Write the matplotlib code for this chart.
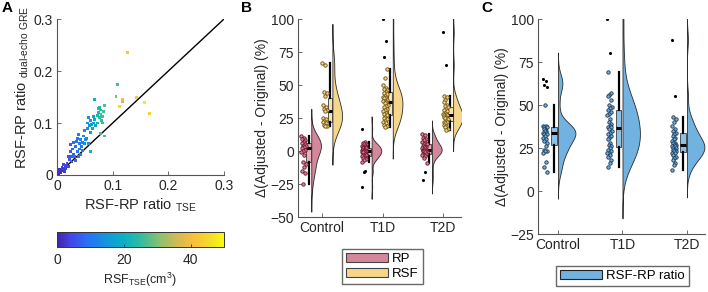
import matplotlib
matplotlib.use('Agg')
import matplotlib.pyplot as plt
import numpy as np
from matplotlib import cbook
from matplotlib.colors import LinearSegmentedColormap
from matplotlib.patches import Patch

plt.rcParams['font.family'] = ['Liberation Sans', 'DejaVu Sans']
plt.rcParams['mathtext.fontset'] = 'custom'
plt.rcParams['mathtext.rm'] = 'Liberation Sans'
plt.rcParams['font.size'] = 10

# ---------------- Panel A data ----------------
a_tse = [0.003, 0.005, 0.007, 0.008, 0.010, 0.012, 0.004, 0.014, 0.015, 0.011, 0.018, 0.016, 0.020, 0.009,
         0.022, 0.024, 0.026, 0.028, 0.025, 0.030, 0.032, 0.030, 0.034, 0.035, 0.036, 0.037, 0.038, 0.040,
         0.041, 0.042, 0.043, 0.044, 0.027, 0.033, 0.020, 0.038, 0.046, 0.045,
         0.048, 0.050, 0.052, 0.054, 0.055, 0.056, 0.058, 0.060, 0.061, 0.062, 0.064, 0.066, 0.068, 0.057,
         0.053, 0.050, 0.070, 0.065,
         0.060, 0.068, 0.072, 0.074, 0.075, 0.076, 0.078, 0.079, 0.080, 0.081, 0.082, 0.083, 0.085, 0.078,
         0.085, 0.073, 0.077,
         0.106, 0.109, 0.118, 0.118, 0.112, 0.127, 0.143, 0.157, 0.166]
a_gre = [0.002, 0.006, 0.004, 0.010, 0.008, 0.013, 0.010, 0.006, 0.018, 0.020, 0.022, 0.012, 0.016, 0.015,
         0.030, 0.045, 0.036, 0.050, 0.058, 0.040, 0.035, 0.062, 0.055, 0.065, 0.045, 0.070, 0.078, 0.060,
         0.050, 0.068, 0.040, 0.055, 0.025, 0.028, 0.035, 0.036, 0.062, 0.048,
         0.075, 0.085, 0.068, 0.090, 0.100, 0.110, 0.095, 0.082, 0.105, 0.098, 0.090, 0.100, 0.107, 0.060,
         0.070, 0.060, 0.095, 0.112,
         0.045, 0.145, 0.115, 0.120, 0.128, 0.110, 0.125, 0.117, 0.105, 0.112, 0.100, 0.122, 0.133, 0.080,
         0.075, 0.100, 0.130,
         0.151, 0.174, 0.141, 0.146, 0.132, 0.236, 0.149, 0.139, 0.119]
a_rsf = [1, 2, 1, 3, 2, 3, 2, 3, 4, 4, 5, 3, 4, 3,
         6, 7, 7, 8, 8, 8, 9, 9, 9, 10, 10, 10, 11, 11,
         11, 12, 10, 11, 7, 8, 6, 9, 12, 12,
         13, 13, 14, 14, 15, 15, 15, 16, 16, 16, 17, 17, 18, 15,
         14, 13, 18, 17,
         22, 20, 22, 23, 23, 24, 24, 25, 25, 26, 25, 26, 27, 26,
         27, 21, 23,
         30, 26, 34, 40, 46, 42, 43, 48, 44]

# ---------------- Panels B and C data (% change) ----------------
groups = ['Control', 'T1D', 'T2D']
rp_change = [
    [11, 10, 9, 8, 7, 6, 5, 4, 4, 3, 2, 1, 0, -1, -3, -8, -10, -12, -15, -17, -25],
    [17, 7, 6, 5, 5, 4, 4, 3, 3, 2, 2, 2, 1, 1, 1, 0, 0, 0, -1, -1, -1, -2, -2, -3, -3, -4, -4,
     -5, -5, -6, -7, -8, -15, -16, -27],
    [13, 12, 10, 9, 8, 7, 6, 5, 5, 4, 4, 3, 3, 2, 2, 1, 1, 1, 0, 0, 0, -1, -1, -2, -2, -3, -3,
     -4, -5, -9, -16, -22],
]
rsf_change = [
    [67, 65, 45, 44, 42, 35, 33, 32, 31, 30, 25, 24, 23, 22, 21, 20, 19, 19],
    [100, 83, 71, 62, 55, 50, 48, 47, 46, 45, 44, 43, 42, 41, 40, 40, 39, 38, 38, 37, 36, 35, 34,
     33, 32, 31, 30, 29, 28, 27, 26, 25, 24, 23, 22, 21, 20, 19, 18],
    [90, 65, 42, 41, 39, 37, 35, 34, 33, 32, 31, 30, 29, 28, 28, 27, 27, 26, 26, 25, 25, 24, 23,
     22, 22, 21, 20, 19, 18, 17, 16],
]
ratio_change = [
    [65, 64, 61.5, 60.5, 50, 38, 38, 37, 37, 36, 36, 35, 35, 34, 34, 33, 33, 32, 31, 30, 29, 28,
     26, 24, 23, 23, 22, 17, 14, 11],
    [100, 80, 69, 57, 56, 55, 53, 50, 49, 48, 47, 46, 45, 44, 42, 40, 39, 38, 37, 37, 36, 35, 34,
     33, 32, 31, 30, 28, 27, 26, 25, 24, 23, 22, 22, 21, 20, 18, 16, 14],
    [88, 55, 43, 42, 40, 38, 36, 35, 34, 33, 32, 31, 30, 29, 28, 28, 27, 27, 26, 26, 25, 25, 24,
     24, 23, 23, 22, 22, 21, 20, 19, 18, 16, 15, 12],
]

parula = LinearSegmentedColormap.from_list('parula', [
    (0.0, '#3e26a8'), (0.08, '#4545e6'), (0.18, '#2a6ff8'), (0.28, '#1592e0'),
    (0.40, '#0ab1c3'), (0.50, '#30bca0'), (0.62, '#8ec070'), (0.72, '#d2ba55'),
    (0.82, '#fbbf3a'), (0.92, '#f3dd2a'), (1.0, '#f9fb0e')])

c_rp, c_rsf, c_ratio = '#d4869a', '#f6d68a', '#72b2e0'
box_rp, box_rsf, box_ratio = '#e8afbd', '#fae5b0', '#8cc2e8'
edge_rp, edge_rsf, edge_ratio = '#6a1028', '#6b5010', '#1b3550'
axis_col = '#555555'
text_col = '#262626'


def style_axes(ax):
    for s in ['top', 'right']:
        ax.spines[s].set_visible(False)
    for s in ['left', 'bottom']:
        ax.spines[s].set_color(axis_col)
        ax.spines[s].set_linewidth(0.8)
    ax.tick_params(direction='in', length=3, width=0.6, color=axis_col, labelcolor=text_col,
                   labelsize=10, pad=3)


def raincloud(ax, data, pos, vwidth, color, boxc, edgec, pt_off, box_off, box_w, jit):
    d = np.asarray(data, dtype=float)
    n = len(d)
    q1, q3 = np.percentile(d, [25, 75])
    bw = 1.15 * 1.06 * min(d.std(ddof=1), (q3 - q1) / 1.34) * n ** -0.2
    yy = np.linspace(d.min() - 3.2 * bw, d.max() + 3.2 * bw, 400)
    dens = np.exp(-0.5 * ((yy[:, None] - d[None, :]) / bw) ** 2).sum(axis=1)
    dens = dens / dens.max() * vwidth
    ax.fill_betweenx(yy, pos, pos + dens, facecolor=color, edgecolor='#2b2b2b', lw=0.6, zorder=2)

    st = cbook.boxplot_stats(d)[0]
    ax.boxplot([d], positions=[pos + box_off], widths=box_w, patch_artist=True, showfliers=False,
               manage_ticks=False,
               boxprops=dict(facecolor=boxc, edgecolor='#3a3a3a', lw=0.6),
               whiskerprops=dict(color='k', lw=1.6), capprops=dict(lw=0),
               medianprops=dict(color='k', lw=2.2), zorder=3)

    out = (d < st['whislo']) | (d > st['whishi'])
    k = np.arange(n)
    xs = pos + pt_off + jit * (((k * 0.618034) % 1.0) - 0.5)
    ax.scatter(xs[~out], d[~out], s=6, facecolor=color, edgecolor=edgec, lw=0.6, zorder=4)
    ax.scatter(xs[out], d[out], s=5, color='k', lw=0, zorder=4)


fig = plt.figure(figsize=(7.08, 2.92), dpi=100)

# ---------------- Panel A ----------------
axA = fig.add_axes([0.0805, 0.4007, 0.2359, 0.5342])
sc = axA.scatter(a_tse, a_gre, c=a_rsf, cmap=parula, vmin=0, vmax=50, marker='s', s=4.5, lw=0,
                 zorder=3)
axA.axline((0, 0), slope=1, color='k', lw=1.0, zorder=2)
axA.set_xlim(0, 0.3)
axA.set_ylim(0, 0.3)
axA.set_xticks([0, 0.1, 0.2, 0.3])
axA.set_yticks([0, 0.1, 0.2, 0.3])
axA.set_xticklabels(['0', '0.1', '0.2', '0.3'])
axA.set_yticklabels(['0', '0.1', '0.2', '0.3'])
style_axes(axA)
axA.set_xlabel(r'RSF-RP ratio $_{\mathregular{TSE}}$', fontsize=10.5, color=text_col, labelpad=2)
axA.set_ylabel('RSF-RP ratio $_{\\mathregular{dual\u2010echo\\ GRE}}$', fontsize=10.5,
               color=text_col, labelpad=2)
axA.yaxis.label.set_y(0.56)

cax = fig.add_axes([0.0805, 0.1541, 0.2359, 0.0514])
cb = fig.colorbar(sc, cax=cax, orientation='horizontal', ticks=[0, 20, 40])
cb.outline.set_edgecolor('#333333')
cb.outline.set_linewidth(0.7)
cax.tick_params(direction='in', length=2, width=0.6, color='#333333', labelcolor=text_col,
                labelsize=10, pad=4)
cax.set_xlabel(r'RSF$_{\mathregular{TSE}}$(cm$^{\mathregular{3}}$)', fontsize=9,
               color=text_col, labelpad=3)

# ---------------- Panel B ----------------
axB = fig.add_axes([0.4209, 0.2568, 0.2302, 0.6781])
for i in range(3):
    pos = i + 1
    raincloud(axB, rp_change[i], pos - 0.18, 0.16, c_rp, box_rp, edge_rp,
              pt_off=-0.125, box_off=-0.045, box_w=0.07, jit=0.08)
    raincloud(axB, rsf_change[i], pos + 0.17, 0.16, c_rsf, box_rsf, edge_rsf,
              pt_off=-0.125, box_off=-0.045, box_w=0.07, jit=0.08)
axB.set_xlim(0.6, 3.3)
axB.set_ylim(-50, 100)
axB.set_yticks([-50, -25, 0, 25, 50, 75, 100])
axB.set_xticks([1, 2, 3])
axB.set_xticklabels(groups)
style_axes(axB)
axB.set_ylabel('\u0394(Adjusted - Original) (%)', fontsize=10, color=text_col, labelpad=0.5)
fig.legend(handles=[Patch(facecolor=c_rp, edgecolor='#444444', lw=0.8, label='RP'),
                    Patch(facecolor=c_rsf, edgecolor='#444444', lw=0.8, label='RSF')],
           loc='upper center', bbox_to_anchor=(0.540, 0.147), fontsize=9.5, frameon=True,
           fancybox=False, edgecolor='#444444', handlelength=3.2, handleheight=0.65,
           handletextpad=0.3, borderpad=0.3, labelspacing=0.25, borderaxespad=0)

# ---------------- Panel C ----------------
axC = fig.add_axes([0.7599, 0.1986, 0.2359, 0.7363])
for i in range(3):
    raincloud(axC, ratio_change[i], i + 1, 0.27, c_ratio, box_ratio, edge_ratio,
              pt_off=-0.2, box_off=-0.06, box_w=0.085, jit=0.07)
axC.set_xlim(0.69, 3.28)
axC.set_ylim(-25, 100)
axC.set_yticks([-25, 0, 25, 50, 75, 100])
axC.set_xticks([1, 2, 3])
axC.set_xticklabels(groups)
style_axes(axC)
axC.set_ylabel('\u0394(Adjusted - Original) (%)', fontsize=10, color=text_col, labelpad=1)
fig.legend(handles=[Patch(facecolor=c_ratio, edgecolor='#222222', lw=0.8, label='RSF-RP ratio')],
           loc='upper center', bbox_to_anchor=(0.879, 0.089), fontsize=9.5, frameon=True,
           fancybox=False, edgecolor='#444444', handlelength=3.2, handleheight=0.65,
           handletextpad=0.3, borderpad=0.3, borderaxespad=0)

# panel letters
for x, lab in [(0.003, 'A'), (0.341, 'B'), (0.680, 'C')]:
    fig.text(x, 0.995, lab, fontsize=11, fontweight='bold', va='top', ha='left')

fig.savefig('out.png', dpi=100)
